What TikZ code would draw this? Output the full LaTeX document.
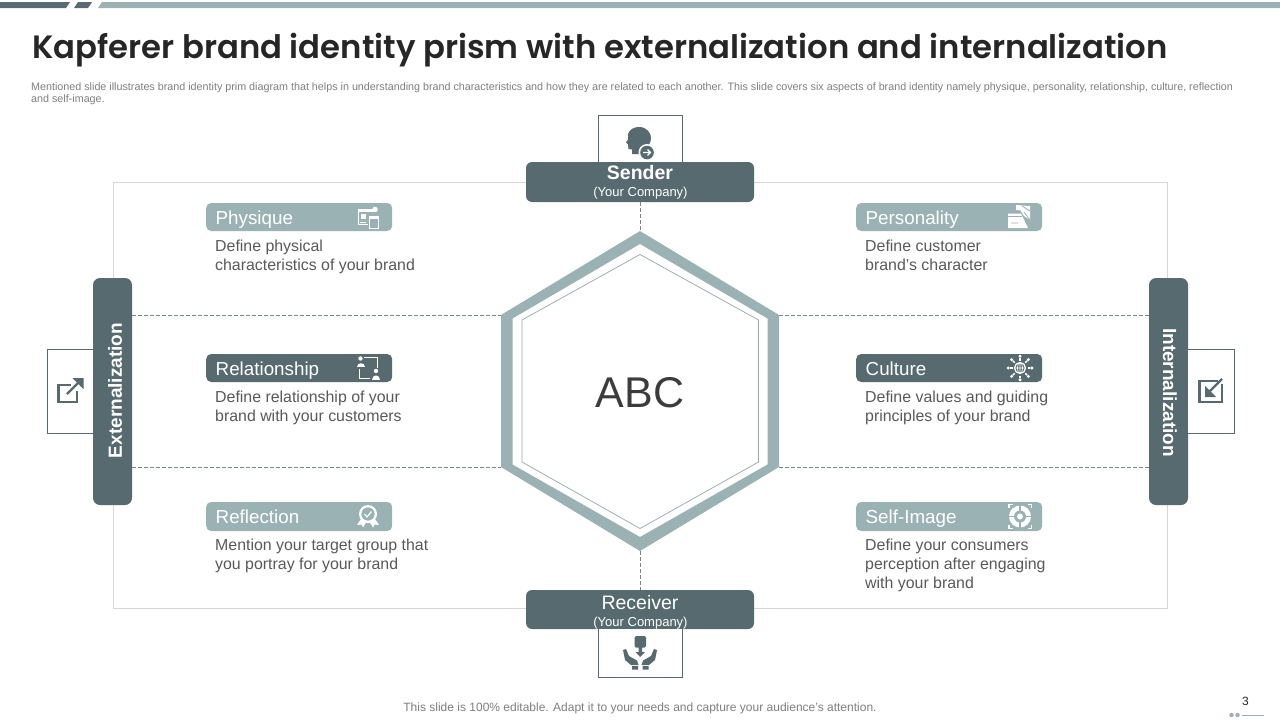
\documentclass[tikz,border=0pt]{standalone}
\usepackage{fontspec}
\setmainfont{Liberation Sans}
\newfontfamily\titlefont{Poppins}[BoldFont={Poppins SemiBold}]
\definecolor{darkteal}{HTML}{566A70}
\definecolor{lightteal}{HTML}{9AB2B3}
\definecolor{framegray}{HTML}{D4D8D8}
\definecolor{bodygray}{HTML}{595959}
\definecolor{notegray}{HTML}{7F7F7F}
\definecolor{titledark}{HTML}{262626}
\definecolor{dashgray}{HTML}{7A8588}
\newcommand{\fs}[1]{\fontsize{#1}{#1}\selectfont}
\newcommand{\fsl}[2]{\fontsize{#1}{#2}\selectfont}
\tikzset{
  x=1pt,y=-1pt,
  bar/.style={rounded corners=5pt,minimum width=186pt,minimum height=28pt,inner sep=0pt,anchor=west,text=white,fill=#1},
  barlabel/.style={anchor=base west,inner sep=0pt,text=white,font=\fs{18.8}},
  bodytext/.style={anchor=north west,inner sep=0pt,align=left,text=bodygray,font=\fsl{15.9}{19}},
  bigbox/.style={fill=darkteal,rounded corners=6pt,minimum width=228pt,minimum height=40pt,inner sep=0pt},
  sidebar/.style={fill=darkteal,rounded corners=7pt,minimum width=39pt,minimum height=227pt,inner sep=0pt},
  iconbox/.style={draw=darkteal,line width=.8pt,fill=white,inner sep=0pt},
  dashline/.style={draw=dashgray,line width=.55pt,dash pattern=on 3.5pt off 2.5pt},
  dk/.style={fill=darkteal,draw=none},
  wh/.style={fill=white,draw=none},
  whl/.style={draw=white,fill=none,line width=1pt},
}
\begin{document}
\begin{tikzpicture}
\useasboundingbox (0,0) rectangle (1280,720);
\fill[white] (0,0) rectangle (1280,720);
% top strip
\fill[darkteal] (0,2) -- (70,2) -- (66,8) -- (0,8) -- cycle;
\fill[darkteal] (78,2) -- (92,2) -- (88,8) -- (74,8) -- cycle;
\fill[lightteal] (102,2) -- (1280,2) -- (1280,8) -- (98,8) -- cycle;
% title and note
\node[anchor=west,inner sep=0pt,text=titledark,font=\titlefont\bfseries\fs{32.3}] (title) at (32,50) {Kapferer brand identity prism with externalization and internalization};
\node[anchor=north west,inner sep=0pt,align=left,text=notegray,font=\fsl{10.75}{12.5}] (note) at (31,82.5) {Mentioned slide illustrates brand identity prim diagram that helps in understanding brand characteristics and how they are related to each another. This slide covers six aspects of brand identity namely physique, personality, relationship, culture, reflection\\and self-image.};
% frame
\draw[framegray,line width=.8pt] (113,182) rectangle (1167,608);
% hexagon vertices
\coordinate (hexT) at (640,231);
\coordinate (hexTR) at (779,315);
\coordinate (hexBR) at (779,467);
\coordinate (hexB) at (640,551);
\coordinate (hexBL) at (501,467);
\coordinate (hexTL) at (501,315);
% bars
\node[sidebar] (ext) at (112.5,391.5) {};
\node[sidebar] (int) at (1168.5,391.5) {};
\node[bigbox] (sender) at (640,182) {};
\node[bigbox,minimum height=39pt] (receiver) at (640,609.5) {};
% connectors
\draw[dashline] (ext.east |- hexTL) -- (hexTL);
\draw[dashline] (ext.east |- hexBL) -- (hexBL);
\draw[dashline] (hexTR) -- (int.west |- hexTR);
\draw[dashline] (hexBR) -- (int.west |- hexBR);
\draw[dashline,xshift=-.5pt] (sender.south) -- (hexT);
\draw[dashline,xshift=-.5pt] (hexB) -- (receiver.north);
% hexagon
\fill[lightteal,even odd rule] (hexT) -- (hexTR) -- (hexBR) -- (hexB) -- (hexBL) -- (hexTL) -- cycle
  (640,244) -- (767.5,318.5) -- (767.5,464.5) -- (640,537) -- (512.5,464.5) -- (512.5,318.5) -- cycle;
\draw[lightteal!80!gray,line width=.7pt] (640,254.5) -- (758.5,320) -- (758.5,462) -- (640,528.5) -- (522,462) -- (522,320) -- cycle;
\node[inner sep=0pt,text=titledark!90,font=\fs{43}] (abc) at (640,392.5) {ABC};
% icon boxes
\draw[iconbox] (598.5,162) -- (598.5,115.5) -- (682.5,115.5) -- (682.5,162);
\draw[iconbox] (598.5,629) -- (598.5,677.5) -- (682.5,677.5) -- (682.5,629);
\draw[iconbox] (93,349.5) -- (47.5,349.5) -- (47.5,433.5) -- (93,433.5);
\draw[iconbox] (1188,349.5) -- (1234.5,349.5) -- (1234.5,433.5) -- (1188,433.5);
% big labels
\node[inner sep=0pt,text=white,font=\bfseries\fs{19.5}] (sendert) at (640,172.5) {Sender};
\node[inner sep=0pt,text=white,font=\fs{13}] (sendersub) at (640.5,193) {(Your Company)};
\node[inner sep=0pt,text=white,font=\fs{19.5}] (receivert) at (640,603) {Receiver};
\node[inner sep=0pt,text=white,font=\fs{13}] (receiversub) at (640.5,623) {(Your Company)};
\node[inner sep=0pt,text=white,rotate=90,font=\bfseries\fs{19}] (extt) at (115,390.5) {Externalization};
\node[inner sep=0pt,text=white,rotate=-90,font=\bfseries\fs{19}] (intt) at (1170,392.5) {Internalization};
% category bars
\node[bar=lightteal] (physique) at (206,217) {};
\node[bar=darkteal] (relationship) at (206,368) {};
\node[bar=lightteal,minimum height=29pt] (reflection) at (206,516.5) {};
\node[bar=lightteal] (personality) at (856,217) {};
\node[bar=darkteal] (culture) at (856,368) {};
\node[bar=lightteal,minimum height=29pt] (selfimage) at (856,516.5) {};
\node[barlabel] at (215.5,224) {Physique};
\node[barlabel] at (215.5,375) {Relationship};
\node[barlabel] at (215.5,523) {Reflection};
\node[barlabel] at (865.5,224) {Personality};
\node[barlabel] at (865.5,375) {Culture};
\node[barlabel] at (865.5,523) {Self-Image};
% body text
\node[bodytext] at (215,239.5) {Define physical\\characteristics of your brand};
\node[bodytext] at (215,390.5) {Define relationship of your\\brand with your customers};
\node[bodytext] at (215,538.5) {Mention your target group that\\you portray for your brand};
\node[bodytext] at (865,239.5) {Define customer\\brand’s character};
\node[bodytext] at (865,390.5) {Define values and guiding\\principles of your brand};
\node[bodytext] at (865,538.5) {Define your consumers\\perception after engaging\\with your brand};
% footer
\node[inner sep=0pt,text=notegray,font=\fs{12}] (footer) at (640,708.5) {This slide is 100\% editable. Adapt it to your needs and capture your audience's attention.};
\node[inner sep=0pt,text=titledark,font=\fs{12}] (pageno) at (1245.5,701) {3};
\fill[lightteal] (1231.5,715) circle (2.2) (1237.5,715) circle (2.2);
\draw[lightteal,line width=.7pt] (1242,715) -- (1264,715);
% sender icon
\fill[dk] (632,154) -- (632,149.5) -- (628.5,149) -- (628,144.5) -- (626,142.5) -- (628,139.5) -- (628,134) .. controls (630,128.5) and (635,127) .. (639,127) .. controls (647,127) and (651,133) .. (651,138) .. controls (651,143) and (648,146) .. (646,148) -- (646,154) -- cycle;
\fill[white] (647,152.5) circle (8.5);
\fill[dk] (647,152.5) circle (6.8);
\draw[white,line width=1.1pt] (643,152.5) -- (650.5,152.5) (647.5,149.5) -- (650.5,152.5) -- (647.5,155.5);
% receiver icon
\fill[dk,rounded corners=1.5pt] (634.5,636) rectangle (646,647.5);
\fill[dk] (638.5,647) -- (642,647) -- (642,652) -- (645,652) -- (640.2,657) -- (635.5,652) -- (638.5,652) -- cycle;
\fill[dk] (623,650) -- (626,649) -- (629,656) -- (637,660.5) -- (638.5,665) -- (631,665) -- (625,660) -- cycle;
\fill[dk] (657,650) -- (654,649) -- (651,656) -- (643,660.5) -- (641.5,665) -- (649,665) -- (655,660) -- cycle;
\fill[dk] (632,666) rectangle (638,669.5) (642.5,666) rectangle (648.5,669.5);
% externalization icon
\draw[darkteal,line width=2.4pt] (71,385) -- (58.5,385) -- (58.5,402) -- (77,402) -- (77,391);
\draw[darkteal,line width=2.4pt] (67,394) -- (81,380);
\fill[dk] (72.5,378) -- (83.5,378) -- (83.5,389) -- cycle;
% internalization icon
\draw[darkteal,line width=2.8pt] (1218,381) -- (1199.5,381) -- (1199.5,402) -- (1222,402) -- (1222,384);
\draw[darkteal,line width=2.4pt] (1222,379) -- (1207,394);
\fill[dk] (1205,386) -- (1205,397) -- (1216,397) -- cycle;
% physique icon
\draw[whl] (358,209.5) rectangle (372,224);
\fill[wh] (358,209) rectangle (373,211.5);
\fill[wh] (361,214) rectangle (366,219);
\fill[lightteal] (368,212) rectangle (381,229);
\draw[whl,line width=.9pt] (369,216) rectangle (378.5,228);
\fill[wh] (369,216) rectangle (378.5,218.5);
\fill[wh] (375,209.5) circle (2.8);
\draw[white,line width=.6pt] (360,222) -- (366,222);
% relationship icon
\fill[wh] (360.5,358.5) circle (2.2);
\fill[wh] (356.5,367) .. controls (356.5,361.5) and (364.5,361.5) .. (364.5,367) -- cycle;
\fill[wh] (376,371) circle (2.2);
\fill[wh] (372,380) .. controls (372,374) and (380,374) .. (380,380) -- cycle;
\draw[white,line width=.9pt] (364,357) -- (377,357) -- (377,368);
\draw[white,line width=.9pt] (359.5,369) -- (359.5,378.5) -- (370,378.5);
% personality icon
\fill[wh] (1016,205) -- (1030,206) -- (1030,220) -- (1024,216) -- (1020,210) -- (1016,210) -- cycle;
\fill[wh] (1008,213.5) -- (1021,213.5) -- (1028,228) -- (1008,228) -- cycle;
\draw[lightteal,line width=.8pt] (1008,216.5) -- (1022,216.5) (1011,223) -- (1018,223) (1022,206) -- (1030,211) (1024,212) -- (1030,220);
% culture icon
\draw[white,line width=1.2pt] (1020,368) circle (5.5);
\draw[white,line width=.7pt] (1020,362.5) -- (1020,373.5) (1014.5,368) -- (1025.5,368) (1020,368) ellipse (2.6 and 5.5);
\foreach \a in {0,45,...,315}{
  \draw[white,line width=1.5pt] (1020,368) ++(\a:7.5) -- ++(\a:2.5);
  \fill[wh] (1020,368) ++(\a:11.8) circle (1.7);
}
% reflection icon
\fill[wh] (361,519) -- (357,525) -- (361.5,524.5) -- (363,527.5) -- (367,521) -- cycle;
\fill[wh] (375,519) -- (379,525) -- (374.5,524.5) -- (373,527.5) -- (369,521) -- cycle;
\fill[wh] (368,514) circle (9);
\fill[lightteal] (368,514) circle (6.6);
\draw[white,line width=1.2pt] (364.5,514) -- (367,517) -- (371.5,511.5);
% self-image icon
\fill[wh] (1020,516.5) circle (11);
\fill[lightteal] (1020,516.5) circle (6);
\fill[wh] (1020,516.5) circle (3);
\draw[lightteal,line width=1.4pt] (1020,505) -- (1020,511) (1020,522) -- (1020,528) (1009,516.5) -- (1015,516.5) (1025,516.5) -- (1031,516.5);
\draw[white,line width=1.3pt] (1009,508) -- (1009,504.5) -- (1012.5,504.5) (1028,504.5) -- (1031.5,504.5) -- (1031.5,508) (1009,525) -- (1009,528.5) -- (1012.5,528.5) (1028,528.5) -- (1031.5,528.5) -- (1031.5,525);
\end{tikzpicture}
\end{document}
